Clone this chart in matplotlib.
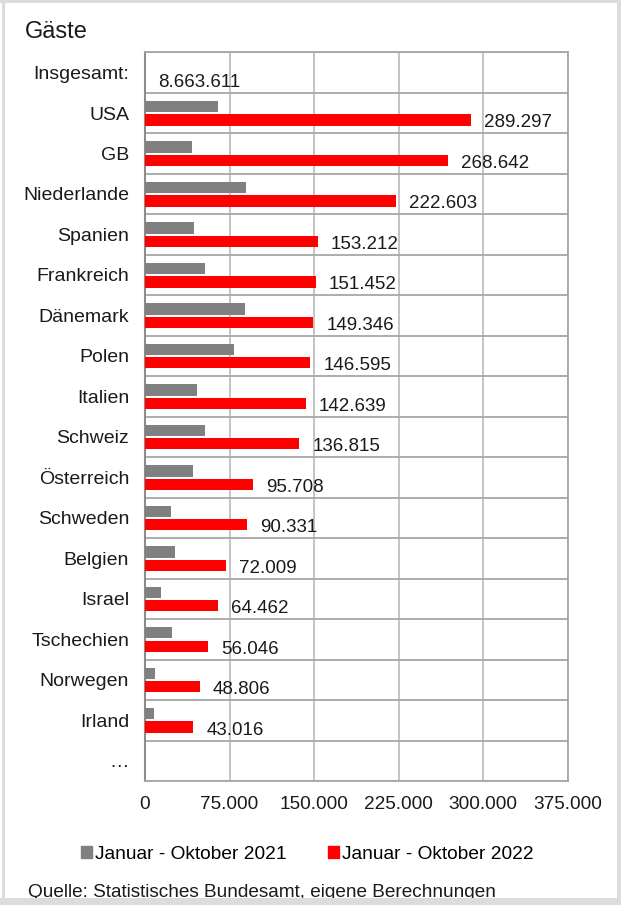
import matplotlib

matplotlib.use("Agg")
import matplotlib.pyplot as plt
from matplotlib.patches import Rectangle, Patch
import numpy as np

plt.rcParams["font.family"] = ["Liberation Sans", "DejaVu Sans"]

categories = ["Insgesamt:", "USA", "GB", "Niederlande", "Spanien", "Frankreich",
              "Dänemark", "Polen", "Italien", "Schweiz", "Österreich", "Schweden",
              "Belgien", "Israel", "Tschechien", "Norwegen", "Irland", "…"]
countries = categories[1:17]
values_2021 = [64500, 42000, 89400, 43800, 53300, 88500, 79000, 45900,
               53300, 42900, 23400, 26300, 13900, 24300, 8900, 7700]
values_2022 = [289297, 268642, 222603, 153212, 151452, 149346, 146595, 142639,
               136815, 95708, 90331, 72009, 64462, 56046, 48806, 43016]
total_2022 = 8663611
xticks = [0, 75000, 150000, 225000, 300000, 375000]

W, H = 621, 905


def de(n):
    return f"{n:,}".replace(",", ".")


fig = plt.figure(figsize=(W / 100, H / 100), dpi=100)
fig.patch.set_facecolor("white")

ax = fig.add_axes([145 / W, 1 - 781 / H, 422.5 / W, (781 - 52.3) / H])

pos = np.arange(1, 17)
ax.barh(pos - 0.16, values_2021, height=0.28, color="#808080", zorder=3)
ax.barh(pos + 0.17, values_2022, height=0.28, color="#ff0000", zorder=3)

for p, v in zip(pos, values_2022):
    ax.annotate(de(v), xy=(v, p + 0.17), xytext=(13, -3), textcoords="offset pixels",
                ha="left", va="center", fontsize=13.5, color="#1a1a1a")
ax.annotate(de(total_2022), xy=(0, 0.17), xytext=(13, -3), textcoords="offset pixels",
            ha="left", va="center", fontsize=13.5, color="#1a1a1a")

ax.set_xlim(0, 375000)
ax.set_ylim(17.5, -0.5)
ax.set_xticks(xticks)
ax.set_xticklabels([de(t) for t in xticks])
ax.set_yticks(np.arange(len(categories)))
ax.set_yticklabels(categories)
ax.set_yticks(np.arange(-0.5, 18, 1), minor=True)
ax.tick_params(axis="both", which="both", length=0, colors="#1a1a1a")
ax.tick_params(axis="x", pad=10.5, labelsize=13.7)
ax.tick_params(axis="y", pad=11.5, labelsize=14)

ax.grid(axis="x", which="major", color="#bfbfbf", linewidth=1.3, zorder=0)
ax.grid(axis="y", which="minor", color="#a6a6a6", linewidth=1.3, zorder=0)
for side in ["top", "right", "bottom"]:
    ax.spines[side].set_color("#a6a6a6")
    ax.spines[side].set_linewidth(1.3)
ax.spines["left"].set_color("#8c8c8c")
ax.spines["left"].set_linewidth(1.5)

fig.text(24.5 / W, 1 - 32 / H, "Gäste", fontsize=17, ha="left", va="center", color="#1a1a1a")

handles = [Patch(color="#808080", label="Januar - Oktober 2021"),
           Patch(color="#ff0000", label="Januar - Oktober 2022")]
fig.legend(handles=handles, loc="center left", bbox_to_anchor=(80.5 / W, 1 - 854 / H),
           ncol=2, frameon=False, fontsize=13.8, handlelength=0.6, handleheight=0.6,
           handletextpad=0.15, columnspacing=2.15, borderpad=0, borderaxespad=0)

fig.text(28.5 / W, 1 - 896.7 / H, "Quelle: Statistisches Bundesamt, eigene Berechnungen",
         fontsize=13.7, ha="left", va="baseline", color="#1a1a1a")

# light grey frame around the picture
band = "#dcdcdc"
for x0, y0, w, h in [(0, 0, W, 3), (2, 0, 3, H), (617, 0, 4, H), (0, 898, W, 7)]:
    fig.patches.append(Rectangle((x0 / W, 1 - (y0 + h) / H), w / W, h / H,
                                 transform=fig.transFigure, facecolor=band,
                                 edgecolor="none", zorder=10))

fig.savefig("out.png", dpi=100)
